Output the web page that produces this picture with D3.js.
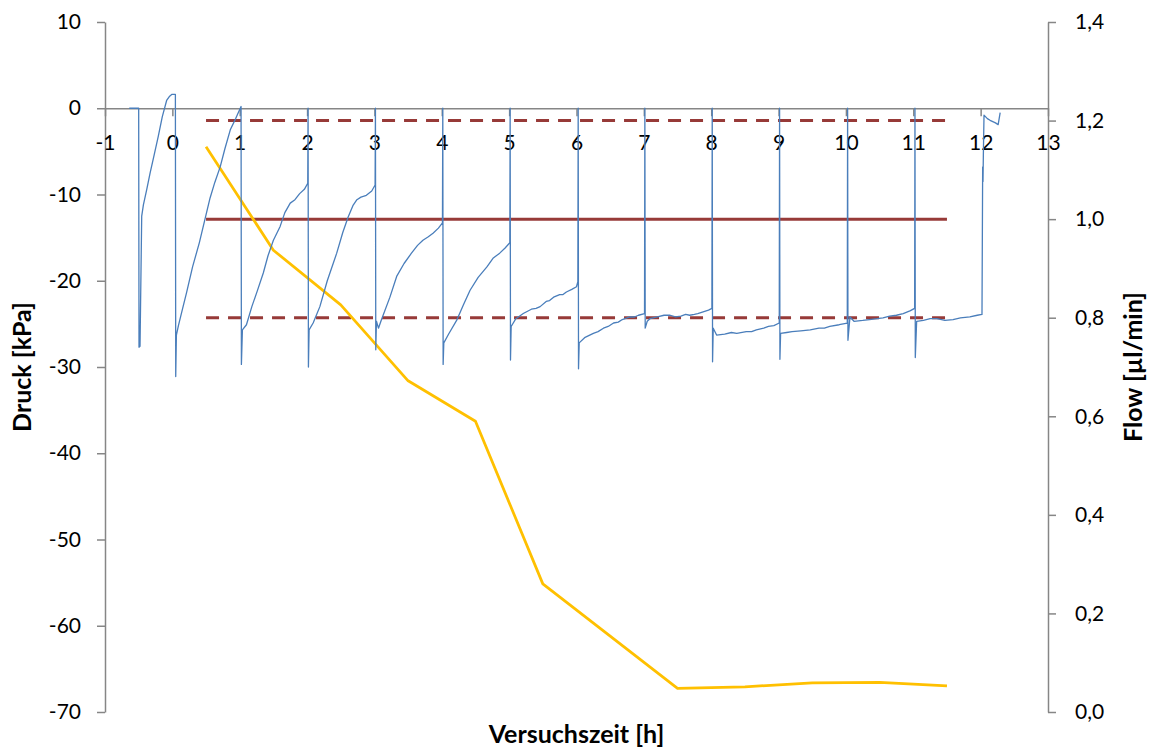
<!DOCTYPE html>
<html>
<head>
<meta charset="utf-8">
<script src="https://cdn.jsdelivr.net/npm/d3@7"></script>
<style>
  html, body { margin: 0; padding: 0; background: #fff; }
  svg { display: block; font-family: Lato, "Liberation Sans", sans-serif; }
</style>
</head>
<body>
<svg id="chart" width="1151" height="747"></svg>
<script>
// Axis ticks
const timeTicks = [-1, 0, 1, 2, 3, 4, 5, 6, 7, 8, 9, 10, 11, 12, 13];
const druckTicks = [10, 0, -10, -20, -30, -40, -50, -60, -70];
const flowTicks = [0, 0.2, 0.4, 0.6, 0.8, 1.0, 1.2, 1.4];

// Measured pressure trace [time h, pressure kPa]
const druckTrace = [
  [-0.64, 0], [-0.50, 0], [-0.495, -27.7], [-0.48, -27.6], [-0.455, -12.5], [-0.43, -11.2],
  [-0.38, -9.4], [-0.33, -7.5], [-0.27, -5.4], [-0.21, -3.3], [-0.15, -1.0], [-0.085, 0.9],
  [-0.04, 1.4], [-0.01, 1.6], [0.045, 1.6],
  [0.05, -31.1], [0.06, -26.3], [0.09, -25.2], [0.15, -23.3], [0.21, -21.4], [0.30, -18.4],
  [0.40, -15.6], [0.48, -13.0], [0.56, -10.4], [0.63, -8.6], [0.71, -6.8], [0.78, -4.7],
  [0.86, -2.5], [0.94, -1.2], [1.02, 0.2],
  [1.025, -29.7], [1.04, -25.7], [1.10, -25.1], [1.18, -23.0], [1.26, -21.2], [1.35, -19.1],
  [1.42, -17.1], [1.50, -15.3], [1.60, -13.7], [1.67, -12.1], [1.75, -11.0], [1.82, -10.6],
  [1.89, -9.9], [1.96, -9.4], [2.01, -8.7],
  [2.015, 0], [2.02, -30.0], [2.03, -25.7], [2.09, -24.9], [2.19, -23.0], [2.30, -20.0],
  [2.44, -16.8], [2.53, -14.4], [2.61, -12.6], [2.68, -11.3], [2.74, -10.6], [2.80, -10.3],
  [2.88, -10.1], [2.96, -9.6], [3.01, -8.9],
  [3.015, 0], [3.02, -28.0], [3.03, -24.7], [3.06, -25.5], [3.10, -24.6], [3.23, -21.9],
  [3.33, -19.5], [3.44, -18.0], [3.55, -16.8], [3.64, -15.9], [3.72, -15.3], [3.80, -14.9],
  [3.87, -14.5], [3.95, -13.9], [4.01, -13.3],
  [4.015, 0], [4.02, -29.7], [4.03, -27.2], [4.10, -26.2], [4.22, -24.6], [4.32, -22.8],
  [4.42, -21.1], [4.54, -19.6], [4.67, -18.4], [4.76, -17.4], [4.86, -16.8], [4.94, -16.2],
  [5.01, -15.6],
  [5.015, 0], [5.02, -29.2], [5.03, -25.3], [5.10, -24.4], [5.21, -23.8], [5.33, -23.3],
  [5.40, -23.2], [5.46, -23.0], [5.55, -22.4], [5.60, -22.3], [5.66, -21.9], [5.75, -21.6],
  [5.80, -21.6], [5.85, -21.3], [5.93, -21.0], [6.00, -20.7], [6.02, -20.1],
  [6.025, 0], [6.03, -30.2], [6.04, -27.2], [6.12, -26.6], [6.25, -26.1], [6.32, -25.9],
  [6.40, -25.5], [6.47, -25.3], [6.55, -24.9], [6.62, -24.8], [6.68, -24.5], [6.79, -24.2],
  [6.86, -24.2], [6.92, -24.0], [7.01, -23.8],
  [7.015, 0], [7.02, -25.5], [7.05, -24.7], [7.09, -24.4], [7.20, -24.2], [7.30, -24.0],
  [7.39, -24.0], [7.47, -24.2], [7.55, -24.1], [7.62, -23.9], [7.68, -24.0], [7.75, -23.9],
  [7.80, -23.8], [7.88, -23.6], [7.96, -23.4], [8.01, -23.2],
  [8.015, 0], [8.02, -29.4], [8.03, -25.5], [8.08, -26.3], [8.20, -26.2], [8.30, -26.0],
  [8.38, -26.1], [8.52, -25.9], [8.60, -25.9], [8.67, -25.7], [8.78, -25.5], [8.85, -25.3],
  [8.93, -25.2], [9.01, -24.9],
  [9.015, 0], [9.02, -29.1], [9.03, -26.1], [9.12, -26.0], [9.20, -25.9], [9.33, -25.8],
  [9.47, -25.7], [9.60, -25.5], [9.68, -25.5], [9.76, -25.3], [9.90, -25.1], [10.02, -24.9],
  [10.025, 0], [10.03, -26.9], [10.06, -24.2], [10.12, -24.7], [10.25, -24.6], [10.35, -24.5],
  [10.46, -24.4], [10.55, -24.3], [10.65, -24.1], [10.75, -24.0], [10.85, -23.8],
  [10.95, -23.5], [11.02, -23.2],
  [11.025, 0], [11.03, -28.9], [11.05, -24.7], [11.15, -24.6], [11.25, -24.4], [11.35, -24.4],
  [11.47, -24.6], [11.59, -24.5], [11.70, -24.3], [11.84, -24.2], [11.95, -24.0], [12.02, -23.9],
  [12.03, -6.8], [12.035, -8.5], [12.04, -5.6], [12.05, -0.8], [12.10, -1.2], [12.14, -1.4],
  [12.22, -1.7], [12.26, -1.9], [12.29, -0.5]
];

// Hourly flow
const flowTimes = [0.5, 1.5, 2.5, 3.5, 4.5, 5.5, 7.5, 8.5, 9.5, 10.5, 11.5];
const flowValues = [1.147, 0.937, 0.826, 0.672, 0.590, 0.260, 0.048, 0.051, 0.059, 0.060, 0.053];

// Target flow with tolerance band
const targetTimes = [0.5, 11.5];
const targetFlow = [1.0, 1.0];
const upperFlow = [1.2, 1.2];
const lowerFlow = [0.8, 0.8];

const svg = d3.select("#chart");
const plotLeft = 105, plotRight = 1048, plotTop = 22, plotBottom = 712;

const x = d3.scaleLinear().domain([-1, 13]).range([plotLeft, plotRight]);
const yP = d3.scaleLinear().domain([-70, 10]).range([plotBottom, plotTop]);
const yF = d3.scaleLinear().domain([0, 1.4]).range([plotBottom, plotTop]);

const axisColor = "#868686";
const tickFont = 21;
const titleFont = 25;

function styleAxis(g) {
  g.selectAll("path.domain").attr("stroke", axisColor).attr("stroke-width", 1.5);
  g.selectAll(".tick line").attr("stroke", axisColor).attr("stroke-width", 1.5);
  g.selectAll(".tick text").attr("fill", "#000").attr("font-size", tickFont)
    .attr("font-family", "Lato, 'Liberation Sans', sans-serif");
}

// Left axis (pressure)
svg.append("g")
  .attr("transform", `translate(${plotLeft},0)`)
  .call(d3.axisLeft(yP).tickValues(druckTicks).tickSize(8).tickSizeOuter(0)
    .tickPadding(16).tickFormat(d => String(d)))
  .call(styleAxis);

// Right axis (flow)
svg.append("g")
  .attr("transform", `translate(${plotRight},0)`)
  .call(d3.axisRight(yF).tickValues(flowTicks).tickSize(8).tickSizeOuter(0)
    .tickPadding(19).tickFormat(d => d3.format(".1f")(d).replace(".", ",")))
  .call(styleAxis);

// Time axis crossing at 0 kPa
svg.append("g")
  .attr("transform", `translate(0,${yP(0)})`)
  .call(d3.axisBottom(x).tickValues(timeTicks).tickSize(8).tickSizeOuter(0)
    .tickPadding(19).tickFormat(d => String(d)))
  .call(styleAxis);

const lineF = d3.line().x(d => x(d[0])).y(d => yF(d[1]));
const lineP = d3.line().x(d => x(d[0])).y(d => yP(d[1]));

const red = "#973a38";
// Tolerance band
[upperFlow, lowerFlow].forEach(vals => {
  svg.append("path")
    .datum(targetTimes.map((t, i) => [t, vals[i]]))
    .attr("d", lineF)
    .attr("fill", "none")
    .attr("stroke", red)
    .attr("stroke-width", 3)
    .attr("stroke-dasharray", "13,9");
});
// Target flow
svg.append("path")
  .datum(targetTimes.map((t, i) => [t, targetFlow[i]]))
  .attr("d", lineF)
  .attr("fill", "none")
  .attr("stroke", red)
  .attr("stroke-width", 3);

// Measured flow
svg.append("path")
  .datum(flowTimes.map((t, i) => [t, flowValues[i]]))
  .attr("d", lineF)
  .attr("fill", "none")
  .attr("stroke", "#FFC000")
  .attr("stroke-width", 2.75)
  .attr("stroke-linejoin", "round");

// Pressure trace
svg.append("path")
  .datum(druckTrace)
  .attr("d", lineP)
  .attr("fill", "none")
  .attr("stroke", "#4A7EBB")
  .attr("stroke-width", 1.3)
  .attr("stroke-linejoin", "round");

// Axis titles
svg.append("text")
  .attr("transform", `translate(31,${(plotTop + plotBottom) / 2}) rotate(-90)`)
  .attr("text-anchor", "middle")
  .attr("font-size", titleFont).attr("font-weight", "bold")
  .text("Druck [kPa]");

svg.append("text")
  .attr("transform", `translate(1142,${(plotTop + plotBottom) / 2}) rotate(-90)`)
  .attr("text-anchor", "middle")
  .attr("font-size", titleFont).attr("font-weight", "bold")
  .text("Flow [µl/min]");

svg.append("text")
  .attr("x", (plotLeft + plotRight) / 2)
  .attr("y", 743)
  .attr("text-anchor", "middle")
  .attr("font-size", titleFont).attr("font-weight", "bold")
  .text("Versuchszeit [h]");
</script>
</body>
</html>
